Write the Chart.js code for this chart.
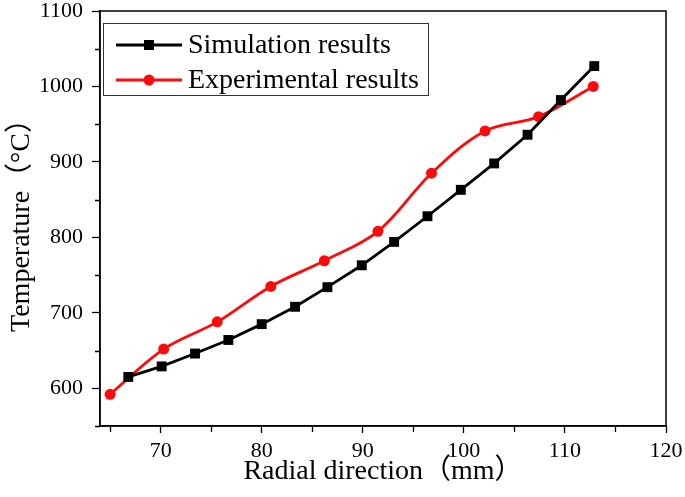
<!DOCTYPE html>
<html>
<head>
<meta charset="utf-8">
<script src="https://cdn.jsdelivr.net/npm/chart.js@4/dist/chart.umd.min.js"></script>
<style>
  html, body { margin: 0; padding: 0; background: #fff; }
  #wrap { width: 685px; height: 497px; position: relative; }
</style>
</head>
<body>
<div id="wrap"><canvas id="c" width="685" height="497"></canvas></div>
<script>
// ---- data ----
const simX = [66.8, 70.1, 73.4, 76.7, 80.0, 83.3, 86.5, 89.9, 93.1, 96.4, 99.7, 103.0, 106.3, 109.6, 112.9];
const simY = [615, 629, 646, 664, 685, 708, 734, 763, 794, 828, 863, 898, 936, 982, 1027];
const expX = [65.0, 70.3, 75.6, 80.9, 86.2, 91.5, 96.8, 102.1, 107.4, 112.8];
const expY = [592, 652, 688, 735, 769, 808, 885, 941, 960, 1000];
const xTicks = [70, 80, 90, 100, 110, 120];
const xMinor = [65, 75, 85, 95, 105, 115];
const yTicks = [600, 700, 800, 900, 1000, 1100];
const yMinor = [550, 650, 750, 850, 950, 1050];
const seriesNames = ['Simulation results', 'Experimental results'];
const xTitle = 'Radial direction（mm）';
const yTitle = 'Temperature（°C）';

const SERIF = '"Liberation Serif", "Times New Roman", "Noto Sans CJK SC", serif';
const RED = '#ff0a0a';

const frame = {
  id: 'frame',
  afterDraw(chart) {
    const ctx = chart.ctx, a = chart.chartArea;
    const xs = chart.scales.x, ys = chart.scales.y;
    ctx.save();
    ctx.strokeStyle = '#000';
    ctx.lineWidth = 1.5;
    ctx.strokeRect(a.left, a.top, a.right - a.left, a.bottom - a.top);
    // minor ticks
    ctx.lineWidth = 1.3;
    ctx.beginPath();
    xMinor.forEach(v => {
      const p = Math.round(xs.getPixelForValue(v)) + 0.5;
      ctx.moveTo(p, a.bottom); ctx.lineTo(p, a.bottom + 6);
    });
    yMinor.forEach(v => {
      const p = Math.round(ys.getPixelForValue(v)) + 0.5;
      ctx.moveTo(a.left, p); ctx.lineTo(a.left - 5, p);
    });
    ctx.stroke();

    // legend box inside plot
    const bx = 103, by = 23, bw = 325, bh = 72;
    ctx.lineWidth = 1;
    ctx.strokeStyle = '#333';
    ctx.strokeRect(bx + 0.5, by + 0.5, bw, bh);
    const rows = [
      { name: seriesNames[0], color: '#000', shape: 'rect', y: 45 },
      { name: seriesNames[1], color: RED, shape: 'circle', y: 80 }
    ];
    ctx.font = '28px ' + SERIF;
    ctx.textBaseline = 'middle';
    ctx.textAlign = 'left';
    rows.forEach(r => {
      ctx.strokeStyle = r.color;
      ctx.fillStyle = r.color;
      ctx.lineWidth = 3;
      ctx.beginPath();
      ctx.moveTo(116, r.y); ctx.lineTo(182, r.y);
      ctx.stroke();
      if (r.shape === 'rect') {
        ctx.fillRect(149 - 5, r.y - 5, 10, 10);
      } else {
        ctx.beginPath(); ctx.arc(149, r.y, 5.5, 0, Math.PI * 2); ctx.fill();
      }
      ctx.fillStyle = '#000';
      ctx.fillText(r.name, 188, r.y + 1);
    });
    ctx.restore();
  }
};

new Chart(document.getElementById('c'), {
  type: 'scatter',
  data: {
    datasets: [
      {
        label: seriesNames[0],
        data: simX.map((x, i) => ({ x, y: simY[i] })),
        showLine: true,
        borderColor: '#000',
        backgroundColor: '#000',
        borderWidth: 2.8,
        pointStyle: 'rect',
        pointRadius: 7,
        pointBorderWidth: 0,
        tension: 0
      },
      {
        label: seriesNames[1],
        data: expX.map((x, i) => ({ x, y: expY[i] })),
        showLine: true,
        borderColor: RED,
        backgroundColor: RED,
        borderWidth: 2.8,
        pointStyle: 'circle',
        pointRadius: 5.5,
        pointBorderWidth: 0,
        tension: 0.35
      }
    ]
  },
  options: {
    responsive: false,
    animation: false,
    devicePixelRatio: 1,
    layout: { padding: { top: 11, right: 19, left: 0, bottom: 0 } },
    plugins: { legend: { display: false }, tooltip: { enabled: false } },
    scales: {
      x: {
        type: 'linear',
        min: 64, max: 120,
        afterBuildTicks: s => { s.ticks = xTicks.map(v => ({ value: v })); },
        afterFit: s => { s.height = 71; s.paddingLeft = 0; s.paddingRight = 0; },
        grid: { display: true, drawOnChartArea: false, drawTicks: true, tickLength: 7, color: '#000', tickWidth: 1.3 },
        border: { display: true, color: '#000', width: 1.5 },
        ticks: { color: '#000', font: { family: SERIF, size: 22 }, padding: 5, maxRotation: 0, callback: v => String(v) },
        title: { display: true, text: xTitle, color: '#000', font: { family: SERIF, size: 28 }, padding: { top: 0, bottom: 9 } }
      },
      y: {
        type: 'linear',
        min: 550, max: 1100,
        afterBuildTicks: s => { s.ticks = yTicks.map(v => ({ value: v })); },
        afterFit: s => { s.width = 100; s.paddingTop = 0; s.paddingBottom = 0; },
        grid: { display: true, drawOnChartArea: false, drawTicks: true, tickLength: 8, color: '#000', tickWidth: 1.3 },
        border: { display: true, color: '#000', width: 1.5 },
        ticks: { color: '#000', font: { family: SERIF, size: 22 }, padding: 9, callback: v => String(v) },
        title: { display: true, text: yTitle, color: '#000', font: { family: SERIF, size: 28 }, padding: { top: 5, bottom: 5 } }
      }
    }
  },
  plugins: [frame]
});
</script>
</body>
</html>
